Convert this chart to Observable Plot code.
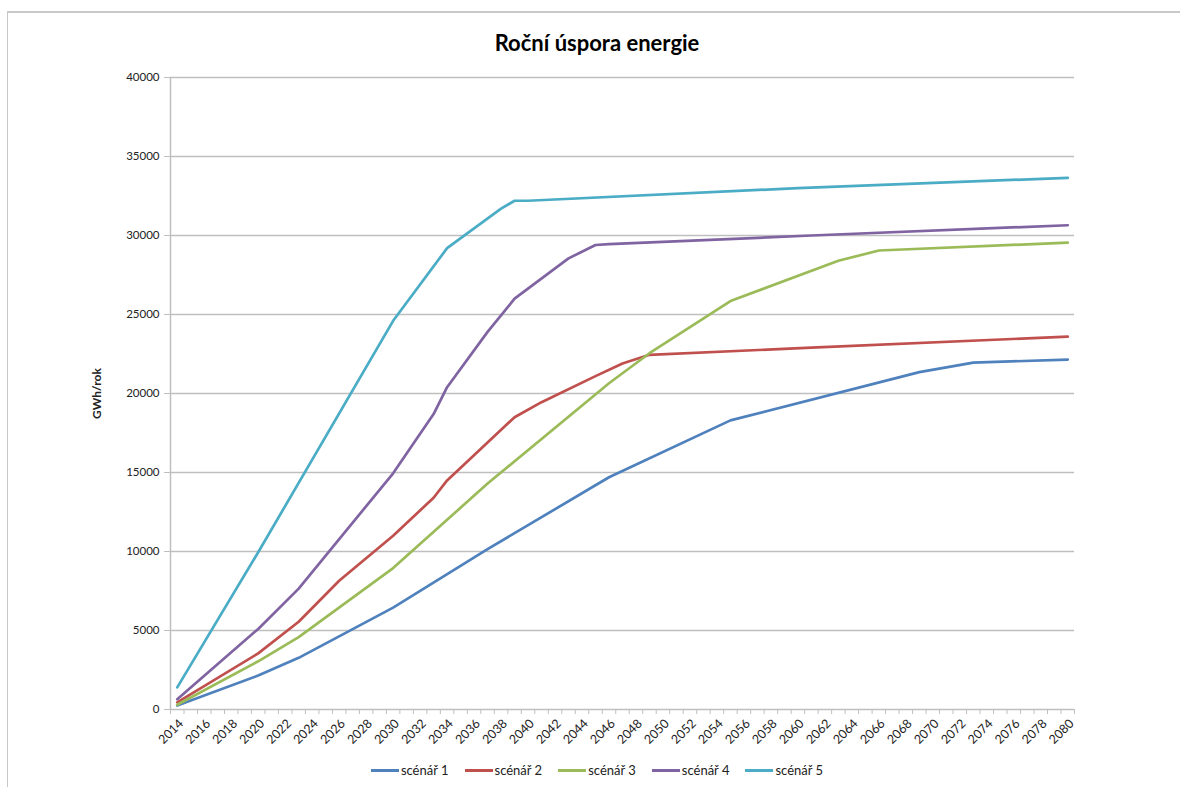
<!DOCTYPE html>
<html>
<head>
<meta charset="utf-8">
<script src="https://cdn.jsdelivr.net/npm/d3@7"></script>
<script src="https://cdn.jsdelivr.net/npm/@observablehq/plot@0.6"></script>
<style>
  body { margin: 0; background: #fff; font-family: Lato, "Open Sans", "DejaVu Sans", sans-serif; }
  #wrap { position: relative; width: 1180px; height: 787px; overflow: hidden; }
  #frame { position: absolute; left: 7px; top: 11px; right: -5px; bottom: -5px; border-top: 2px solid #c9c9c9; border-left: 1.5px solid #c9c9c9; pointer-events: none; }
  #title { height: 60px; box-sizing: border-box; padding-top: 31px; padding-left: 14px; text-align: center; font-size: 22px; line-height: 24px; font-weight: bold; color: #000; }
  #chart svg { display: block; }
  #legend { display: flex; justify-content: center; align-items: center; padding-left: 14px; margin-top: 12px; font-size: 13px; color: #222; }
  .item { display: flex; align-items: center; margin: 0 8px; }
  .sw { width: 28px; height: 3px; margin-right: 2px; }
</style>
</head>
<body>
<div id="wrap">
  <div id="frame"></div>
  <div id="title">Roční úspora energie</div>
  <div id="chart"></div>
  <div id="legend"></div>
</div>
<script>
const seriesNames = ["scénář 1", "scénář 2", "scénář 3", "scénář 4", "scénář 5"];
const seriesColors = ["#4f81bd", "#c0504d", "#9bbb59", "#8064a2", "#4bacc6"];
const axisTitle = "GWh/rok";

const years1 = [2014, 2020, 2023, 2030, 2037, 2046, 2055, 2069, 2073, 2080];
const values1 = [250, 2150, 3270, 6450, 10150, 14700, 18300, 21350, 21950, 22150];

const years2 = [2014, 2020, 2023, 2026, 2030, 2033, 2034, 2037, 2039, 2041, 2045, 2047, 2049, 2061, 2080];
const values2 = [450, 3550, 5550, 8150, 11000, 13400, 14500, 16900, 18500, 19450, 21100, 21900, 22450, 22900, 23600];

const years3 = [2014, 2020, 2023, 2030, 2037, 2046, 2049, 2055, 2063, 2066, 2080];
const values3 = [300, 3050, 4580, 8950, 14300, 20650, 22550, 25850, 28400, 29050, 29550];

const years4 = [2014, 2020, 2023, 2030, 2033, 2034, 2037, 2039, 2043, 2045, 2046, 2061, 2080];
const values4 = [650, 5100, 7650, 14950, 18700, 20400, 23900, 26000, 28550, 29400, 29450, 30000, 30650];

const years5 = [2014, 2020, 2030, 2034, 2038, 2039, 2040, 2060, 2080];
const values5 = [1400, 9950, 24600, 29200, 31700, 32200, 32200, 33000, 33650];

const yTicks = [0, 5000, 10000, 15000, 20000, 25000, 30000, 35000, 40000];
const firstYear = 2014, lastYear = 2080;
const allYears = d3.range(firstYear, lastYear + 1);
const labelYears = allYears.filter(y => (y - firstYear) % 2 === 0);
const boundaries = d3.range(firstYear - 0.5, lastYear + 1, 1);

const yearsList = [years1, years2, years3, years4, years5];
const valuesList = [values1, values2, values3, values4, values5];
const rows = [];
seriesNames.forEach((s, i) => {
  yearsList[i].forEach((yr, j) => rows.push({series: s, year: yr, value: valuesList[i][j]}));
});

const xDomain = [firstYear - 0.5, lastYear + 0.5];
const fontStack = "Lato, 'Open Sans', sans-serif";

const chart = Plot.plot({
  width: 1180,
  height: 690,
  marginLeft: 170,
  marginRight: 106,
  marginTop: 17,
  marginBottom: 41,
  style: { color: "#222", background: "#fff" },
  x: { domain: xDomain, axis: null },
  y: { domain: [0, 40000], axis: null },
  color: { domain: seriesNames, range: seriesColors },
  marks: [
    Plot.ruleY(yTicks, { stroke: "#bfbfbf", strokeWidth: 1.5 }),
    Plot.ruleX([xDomain[0]], { stroke: "#bfbfbf", strokeWidth: 1.5 }),
    Plot.axisY({ ticks: yTicks, tickSize: 6, tickFormat: () => "", label: null, stroke: "#bfbfbf" }),
    Plot.text(yTicks, { y: d => d, frameAnchor: "left", dx: -11, textAnchor: "end", fontSize: 11.5, fontFamily: fontStack, fill: "#222", text: d => String(d) }),
    Plot.axisX({ ticks: boundaries, tickSize: 5, tickFormat: () => "", label: null, stroke: "#bfbfbf" }),
    Plot.text(labelYears, { x: d => d, y: () => 0, dx: 4, dy: 12, rotate: -45, textAnchor: "end", lineAnchor: "middle", fontSize: 12.5, fontFamily: fontStack, fill: "#222", text: d => String(d) }),
    Plot.text([axisTitle], { frameAnchor: "left", dx: -73, rotate: -90, textAnchor: "middle", fontSize: 12, fontWeight: "bold", fontFamily: fontStack, fill: "#222" }),
    Plot.line(rows, { x: "year", y: "value", z: "series", stroke: "series", strokeWidth: 2.7, strokeLinejoin: "round", strokeLinecap: "round" })
  ]
});
document.getElementById("chart").appendChild(chart);

const legend = document.getElementById("legend");
seriesNames.forEach((s, i) => {
  const it = document.createElement("div");
  it.className = "item";
  const sw = document.createElement("div");
  sw.className = "sw";
  sw.style.background = seriesColors[i];
  const tx = document.createElement("span");
  tx.textContent = s;
  it.appendChild(sw);
  it.appendChild(tx);
  legend.appendChild(it);
});
</script>
</body>
</html>
